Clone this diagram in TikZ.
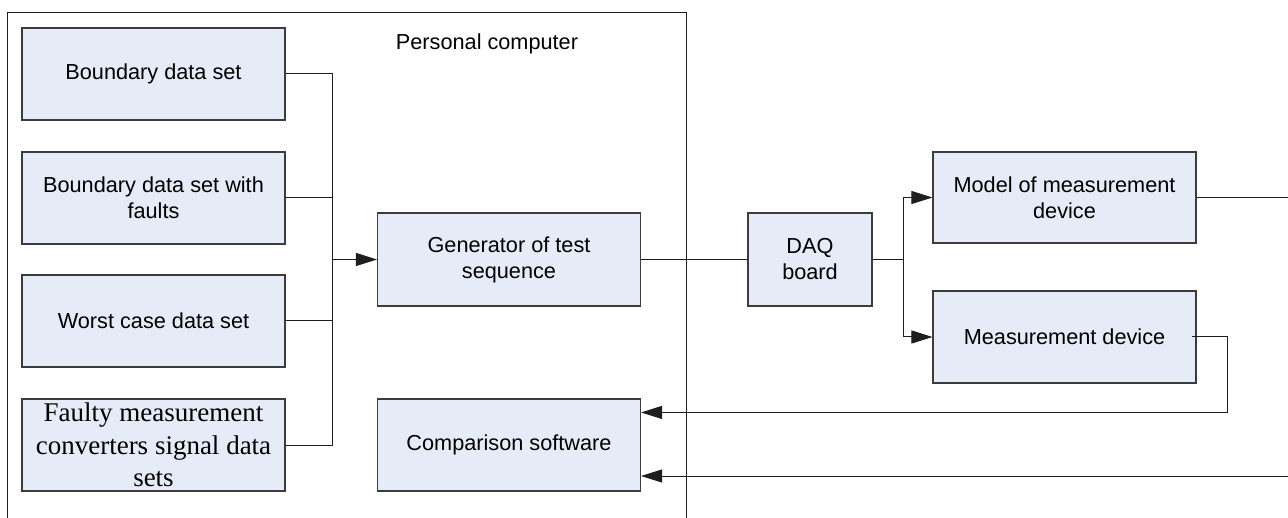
\documentclass[tikz,border=0pt]{standalone}
\usepackage{fontspec}
\setmainfont{Liberation Sans}
\newfontfamily\timesfont{Liberation Serif}
\usetikzlibrary{arrows.meta,calc}
\definecolor{boxfill}{RGB}{230,236,247}
\definecolor{boxline}{RGB}{60,60,60}
\definecolor{wire}{RGB}{30,30,30}
\tikzset{
  blockbox/.style={draw=boxline, line width=1.1pt, fill=boxfill, inner sep=0pt,
    minimum width=263pt, minimum height=92pt, align=center,
    font=\fontsize{21.7}{26}\selectfont},
  wireline/.style={draw=wire, line width=1pt},
  arrowline/.style={wireline, -{Triangle[length=21pt,width=13pt]}},
}
\begin{document}
\begin{tikzpicture}[x=1pt,y=-1pt]
\clip (0,0) rectangle (1288,518);
\fill[white] (0,0) rectangle (1288,518);

% personal computer frame (open at the bottom edge)
\draw[draw=wire, line width=1pt] (7,530) -- (7,12.5) -- (686.5,12.5) -- (686.5,530);
\node[font=\fontsize{21.7}{26}\selectfont] (pclabel) at (487,44) {Personal computer};

% data sets
\node[blockbox] (bds)  at (153.5,74)  {Boundary data set};
\node[blockbox] (bdsf) at (153.5,198) {Boundary data set with\\faults};
\node[blockbox] (wcds) at (153.5,321) {Worst case data set};
\node[blockbox, font=\timesfont\fontsize{27}{32.5}\selectfont] (fmc) at (153.5,445)
  {Faulty measurement\\converters signal data\\sets};

% processing blocks
\node[blockbox, minimum height=93pt] (gen) at (509,259.5) {Generator of test\\sequence};
\node[blockbox] (cmp) at (509,445) {Comparison software};
\node[blockbox, minimum width=124pt, minimum height=93pt] (daq) at (810,259.5) {DAQ\\board};
\node[blockbox, minimum height=91pt] (model) at (1064.5,197.5) {Model of measurement\\device};
\node[blockbox] (meas) at (1064.5,337) {Measurement device};

% junctions and off-page ends
\coordinate (jn) at (332,259.5);
\coordinate (split) at (903,259.5);
\coordinate (mturn) at (1227,337);
\coordinate (offA) at (1292,197.5);
\coordinate (offB) at (1292,476);

% data sets merge into the generator
\draw[wireline] (bds.east) -| (jn);
\draw[wireline] (fmc.east) -| (jn);
\draw[wireline] (bdsf.east) -- (bdsf.east -| jn);
\draw[wireline] (wcds.east) -- (wcds.east -| jn);
\draw[arrowline] (jn) -- (gen.west);

% generator to DAQ board and on to both devices
\draw[wireline] (gen.east) -- (daq.west);
\draw[wireline] (daq.east) -- (split);
\draw[arrowline] (split) |- (model.west);
\draw[arrowline] (split) |- (meas.west);

% device outputs back to the comparison software
\draw[wireline] (model.east) -- (offA);
\draw[arrowline] ([xshift=-5pt]meas.east) -- (mturn) |- ($(cmp.north east)+(0,14)$);
\draw[arrowline] (offB) -- (cmp.east |- offB);
\end{tikzpicture}
\end{document}
